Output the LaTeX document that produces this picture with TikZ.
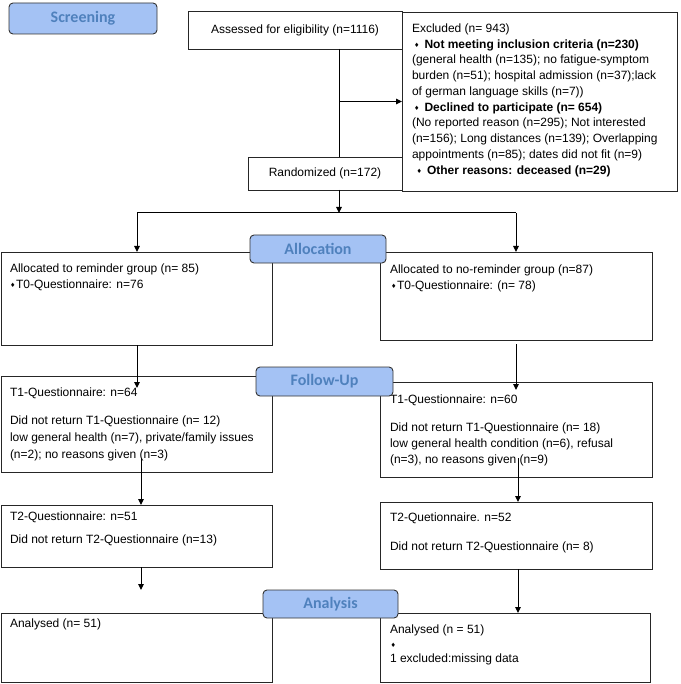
\documentclass[tikz,border=0pt]{standalone}
\usepackage{fontspec}
\setmainfont{Liberation Sans}
\newfontfamily\labelfont{Carlito}
\newfontfamily\symfont{DejaVu Sans}
\usetikzlibrary{arrows.meta,calc}
\definecolor{lblfill}{HTML}{A4C2F4}
\definecolor{lbltext}{HTML}{4F81BD}
\newcommand{\bul}{\raisebox{0.8pt}{\symfont\fontsize{6}{6}\selectfont ♦}}
\begin{document}
\begin{tikzpicture}[x=1pt,y=-1pt,
  box/.style={draw=black!85, line width=0.9pt, rectangle, inner sep=0pt, outer sep=0pt, fill=white, font=\fontsize{12}{14}\selectfont},
  lbl/.style={draw=black!80, line width=0.9pt, fill=lblfill, rounded corners=4pt, inner sep=0pt, outer sep=0pt, text=lbltext, font=\labelfont\bfseries\fontsize{16}{16}\selectfont},
  txt/.style={anchor=base west, inner sep=0pt, outer sep=0pt, font=\fontsize{12}{14}\selectfont},
  arr/.style={draw=black, line width=1pt, -{Triangle[length=6pt,width=5.5pt]}},
  ln/.style={draw=black, line width=1pt}]
\useasboundingbox (0,0) rectangle (680,684);

% boxes
\node[box, minimum width=214pt, minimum height=38pt] (assessed) at (295,30) {Assessed for eligibility (n=1116)};
\node[box, minimum width=275pt, minimum height=179pt] (excluded) at (539.5,101.5) {};
\node[box, minimum width=154pt, minimum height=33pt] (random) at (325,173.5) {Randomized (n=172)};
\node[box, minimum width=271pt, minimum height=93pt] (A1) at (136.5,298.5) {};
\node[box, minimum width=272pt, minimum height=88pt] (B1) at (516,296) {};
\node[box, minimum width=271pt, minimum height=96pt] (A2) at (136.5,424) {};
\node[box, minimum width=272pt, minimum height=95pt] (B2) at (516,429.5) {};
\node[box, minimum width=271pt, minimum height=62pt] (A3) at (136.5,536) {};
\node[box, minimum width=272pt, minimum height=67pt] (B3) at (516,535.5) {};
\node[box, minimum width=271pt, minimum height=69pt] (A4) at (136.5,647.5) {};
\node[box, minimum width=270pt, minimum height=69pt] (B4) at (515,647.5) {};

% excluded text
\node[txt] (ex1) at (412,32.5) {Excluded (n= 943)};
\node[txt] (ex2) at (412,48.25) {\hspace*{2pt}\makebox[10.5pt][l]{\bul}\textbf{Not meeting inclusion criteria (n=230)}};
\node[txt] (ex3) at (412,64) {(general health (n=135); no fatigue-symptom};
\node[txt] (ex4) at (412,79.75) {burden (n=51); hospital admission (n=37);lack};
\node[txt] (ex5) at (412,95.5) {of german language skills (n=7))};
\node[txt] (ex6) at (412,111.25) {\hspace*{2pt}\makebox[10.5pt][l]{\bul}\textbf{Declined to participate (n= 654)}};
\node[txt] (ex7) at (412,127) {(No reported reason (n=295); Not interested};
\node[txt] (ex8) at (412,142.75) {(n=156); Long distances (n=139); Overlapping};
\node[txt] (ex9) at (412,158.5) {appointments (n=85); dates did not fit (n=9)};
\node[txt] (ex10) at (412,174.25) {\hspace*{4.5pt}\makebox[10.5pt][l]{\bul}\textbf{Other reasons: deceased (n=29)}};

% left column text
\node[txt] (a1a) at (10,272.5) {Allocated to reminder group (n= 85)};
\node[txt] (a1b) at (10,288.7) {\makebox[6pt][l]{\bul}T0-Questionnaire: n=76};
\node[txt] (a2a) at (10,396) {T1-Questionnaire: n=64};
\node[txt] (a2b) at (10,424) {Did not return T1-Questionnaire (n= 12)};
\node[txt] (a2c) at (10,441) {low general health (n=7), private/family issues};
\node[txt] (a2d) at (10,458) {(n=2); no reasons given (n=3)};
\node[txt] (a3a) at (10,520) {T2-Questionnaire: n=51};
\node[txt] (a3b) at (10,543.5) {Did not return T2-Questionnaire (n=13)};
\node[txt] (a4a) at (10,627) {Analysed (n= 51)};

% right column text
\node[txt] (b1a) at (390,273.5) {Allocated to no-reminder group (n=87)};
\node[txt] (b1b) at (391,289.3) {\makebox[6pt][l]{\bul}T0-Questionnaire: (n= 78)};
\node[txt] (b2a) at (390,403) {T1-Questionnaire: n=60};
\node[txt] (b2b) at (390,431) {Did not return T1-Questionnaire (n= 18)};
\node[txt] (b2c) at (390,447) {low general health condition (n=6), refusal};
\node[txt] (b2d) at (390,463) {(n=3), no reasons given (n=9)};
\node[txt] (b3a) at (390,521.7) {T2-Quetionnaire. n=52};
\node[txt] (b3b) at (390,550.7) {Did not return T2-Questionnaire (n= 8)};
\node[txt] (b4a) at (390,633.3) {Analysed (n = 51)};
\node[txt] (b4b) at (390.5,648) {\bul};
\node[txt] (b4c) at (390,662.3) {1 excluded:missing data};

% connectors
\coordinate (spine) at (339,0);
\coordinate (cL) at (137,0);
\coordinate (cR) at (516,0);
\coordinate (cL2) at (141,0);
\coordinate (cR2) at (518,0);
\coordinate (split) at (0,213);

\draw[ln] (spine |- assessed.south) -- (spine |- random.north);
\draw[arr] (spine |- excluded.west) -- (excluded.west);
\draw[arr] (spine |- random.south) -- (spine |- split);
\draw[ln] (cL |- split) -- (cR |- split);
\draw[arr] (cL |- split) -- (cL |- A1.north);
\draw[arr] (cR |- split) -- (cR |- B1.north);
\draw[arr] (cL |- A1.south) -- ($(cL |- A2.north)+(0,12)$);
\draw[arr] ($(cR |- B1.south)+(0,4)$) -- ($(cR |- B2.north)+(0,8)$);
\draw[arr] ($(cL2 |- A2.south)+(0,-14)$) -- (cL2 |- A3.north);
\draw[arr] ($(cR2 |- B2.south)+(0,-19)$) -- (cR2 |- B3.north);
\draw[arr] (cL2 |- A3.south) -- ($(cL2 |- A4.north)+(0,-23)$);
\draw[arr] (cR2 |- B3.south) -- (cR2 |- B4.north);

% stage labels
\node[lbl, minimum width=148pt, minimum height=31pt] (screening) at (83,18.5) {Screening};
\node[lbl, minimum width=136pt, minimum height=28pt] (allocation) at (318,249) {Allocation};
\node[lbl, minimum width=137pt, minimum height=29pt] (followup) at (324.5,381.5) {Follow-Up};
\node[lbl, minimum width=135pt, minimum height=28pt] (analysis) at (330.5,604) {Analysis};
\end{tikzpicture}
\end{document}
